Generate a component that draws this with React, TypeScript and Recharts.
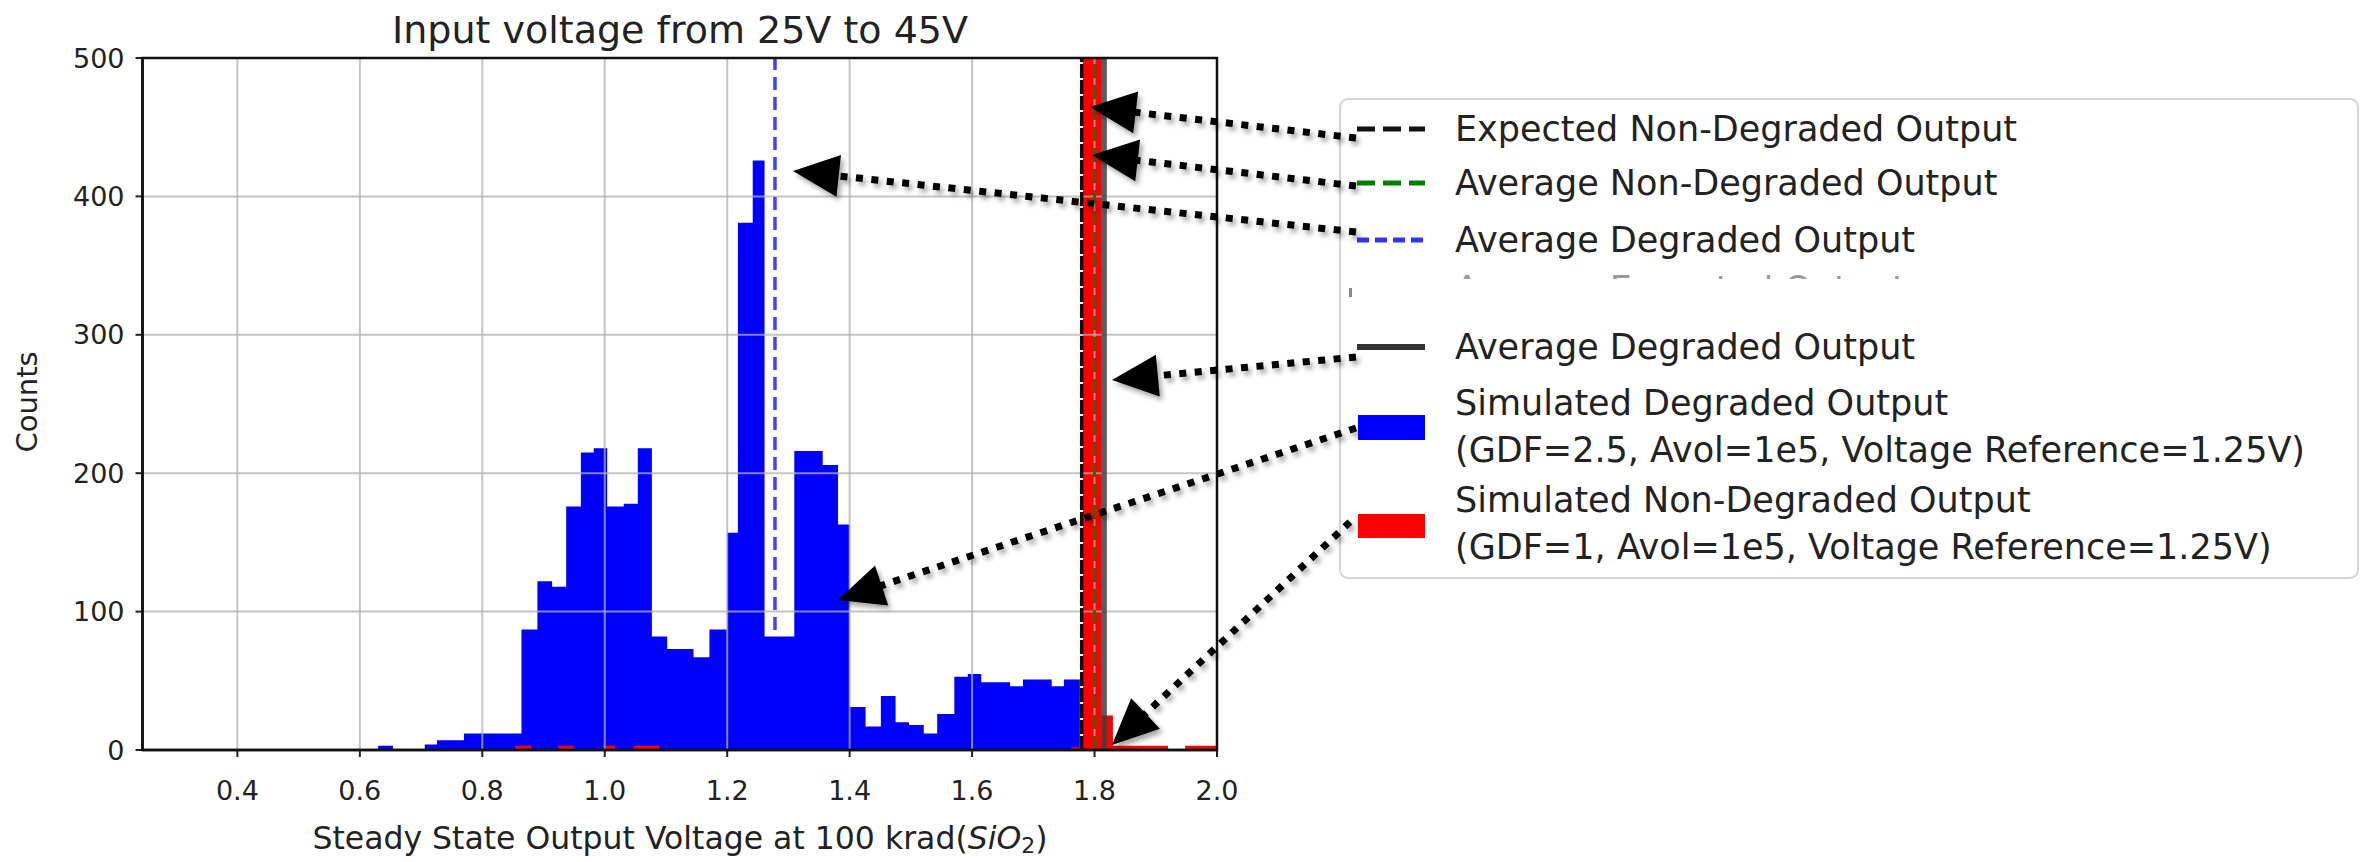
import React from 'react';
import {
  ComposedChart,
  Area,
  XAxis,
  YAxis,
  CartesianGrid,
  ReferenceLine,
  ReferenceArea,
  Legend,
} from 'recharts';

// Simulated degraded output histogram (bin edges in V, counts per bin)
const degradedEdges = [
  0.63, 0.654, 0.706, 0.726, 0.77, 0.864, 0.89, 0.914, 0.937, 0.961, 0.982, 1.004,
  1.031, 1.054, 1.077, 1.102, 1.145, 1.171, 1.2, 1.2175, 1.2417, 1.261, 1.3096, 1.356,
  1.381, 1.4, 1.426, 1.451, 1.475, 1.497, 1.521, 1.543, 1.571, 1.593, 1.615, 1.64,
  1.662, 1.683, 1.708, 1.73, 1.75, 1.776,
];
const degradedCounts = [
  3, 0, 4, 7, 12, 87, 122, 118, 176, 215, 218, 176, 178, 218, 82, 73, 67, 87, 157, 381,
  426, 82, 216, 206, 163, 31, 17, 39, 20, 18, 12, 26, 53, 55, 49, 49, 46, 51, 51, 46, 51,
];

// Simulated non-degraded output histogram
const nonDegradedEdges = [
  0.854, 0.88, 0.924, 0.949, 1.0, 1.017, 1.047, 1.089, 1.762, 1.776, 1.781, 1.812, 1.83,
  1.92, 1.948, 2.0,
];
const nonDegradedCounts = [3, 0, 3, 0, 3, 0, 3, 0, 2, 0, 1500, 25, 3, 0, 3];

// Vertical marker lines (V)
const expectedNonDegraded = 1.779;
const averageNonDegraded = 1.8;
const averageDegraded = 1.278;
const averageDegradedSolid = 1.816;

const xTicks = [0.4, 0.6, 0.8, 1.0, 1.2, 1.4, 1.6, 1.8, 2.0];
const yTicks = [0, 100, 200, 300, 400, 500];

const titleText = 'Input voltage from 25V to 45V';
const yLabel = 'Counts';

// annotation arrows drawn over the figure: [fromX, fromY, tipX, tipY]
const arrows = [
  [1356, 138, 1090, 107],
  [1356, 186, 1092, 155],
  [1356, 232, 793, 171],
  [1356, 357, 1112, 380],
  [1356, 428, 838, 600],
  [1350, 522, 1112, 745],
];

function countAt(edges: number[], counts: number[], x: number) {
  for (let i = 0; i < counts.length; i++) {
    if (x >= edges[i] && x < edges[i + 1]) return counts[i];
  }
  return 0;
}

const xs = Array.from(new Set([...degradedEdges, ...nonDegradedEdges])).sort((a, b) => a - b);
const histData = xs.map((x) => ({
  x,
  degraded: countAt(degradedEdges, degradedCounts, x),
  nonDegraded: countAt(nonDegradedEdges, nonDegradedCounts, x),
}));

const FONT = '"DejaVu Sans", sans-serif';
const TEXT = '#222';

function LegendBox() {
  const fs = 35;
  const textX = 116;
  return (
    <svg width={1020} height={481} style={{ display: 'block', fontFamily: FONT }}>
      <defs>
        <clipPath id="ghostClip">
          <rect x={0} y={177} width={1020} height={4} />
        </clipPath>
      </defs>
      <rect x={1} y={1} width={1018} height={479} rx={8} fill="#fff" stroke="#d4d4d4" strokeWidth={2} />
      <line x1={18} x2={86} y1={31} y2={31} stroke="#111" strokeWidth={5} strokeDasharray="18 8" />
      <text x={textX} y={31} fontSize={fs} fill={TEXT} dominantBaseline="central">Expected Non-Degraded Output</text>
      <line x1={18} x2={86} y1={85} y2={85} stroke="#008000" strokeWidth={5} strokeDasharray="18 8" />
      <text x={textX} y={85} fontSize={fs} fill={TEXT} dominantBaseline="central">Average Non-Degraded Output</text>
      <line x1={18} x2={86} y1={142} y2={142} stroke="#3333ff" strokeWidth={5} strokeDasharray="12 6" />
      <text x={textX} y={142} fontSize={fs} fill={TEXT} dominantBaseline="central">Average Degraded Output</text>
      {/* partly hidden entry, only the tops of its glyphs show */}
      <text x={textX} y={203} fontSize={fs} fill="#999" clipPath="url(#ghostClip)">Average Expected Output</text>
      <rect x={10} y={190} width={3} height={9} fill="#888" />
      <line x1={18} x2={86} y1={249} y2={249} stroke="#333" strokeWidth={6} />
      <text x={textX} y={249} fontSize={fs} fill={TEXT} dominantBaseline="central">Average Degraded Output</text>
      <rect x={19} y={317} width={67} height={25} fill="#0000ff" />
      <text x={textX} y={305} fontSize={fs} fill={TEXT} dominantBaseline="central">Simulated Degraded Output</text>
      <text x={textX} y={352} fontSize={fs} fill={TEXT} dominantBaseline="central">(GDF=2.5, Avol=1e5, Voltage Reference=1.25V)</text>
      <rect x={19} y={416} width={67} height={24} fill="#ff0000" />
      <text x={textX} y={402} fontSize={fs} fill={TEXT} dominantBaseline="central">Simulated Non-Degraded Output</text>
      <text x={textX} y={449} fontSize={fs} fill={TEXT} dominantBaseline="central">(GDF=1, Avol=1e5, Voltage Reference=1.25V)</text>
    </svg>
  );
}

function Arrow({ a }: { a: number[] }) {
  const [fx, fy, tx, ty] = a;
  const dx = fx - tx;
  const dy = fy - ty;
  const len = Math.hypot(dx, dy);
  const ux = dx / len;
  const uy = dy / len;
  const headLen = 46;
  const half = 21;
  const bx = tx + ux * headLen;
  const by = ty + uy * headLen;
  const pts = `${tx},${ty} ${bx - uy * half},${by + ux * half} ${bx + uy * half},${by - ux * half}`;
  return (
    <g filter="url(#arrowShadow)">
      <line x1={fx} y1={fy} x2={bx - ux * 2} y2={by - uy * 2} stroke="#000" strokeWidth={7} strokeDasharray="7 8.5" />
      <polygon points={pts} fill="#000" />
    </g>
  );
}

export default function App() {
  return (
    <div style={{ position: 'relative', width: 2377, height: 862, background: '#fff', fontFamily: FONT }}>
      <style>{`body{margin:0}`}</style>
      <ComposedChart
        width={2377}
        height={862}
        data={histData}
        margin={{ top: 58, right: 1160, bottom: 32, left: 62.5 }}
      >
        <XAxis
          type="number"
          dataKey="x"
          domain={[0.245, 2.0]}
          ticks={xTicks}
          allowDataOverflow
          height={80}
          tickFormatter={(v: number) => v.toFixed(1)}
          tick={{ fontSize: 27, fill: TEXT, fontFamily: FONT }}
          tickSize={7}
          tickMargin={24}
          tickLine={{ stroke: '#222', strokeWidth: 2 }}
          axisLine={{ stroke: '#111', strokeWidth: 2.5 }}
        />
        <YAxis
          type="number"
          domain={[0, 500]}
          ticks={yTicks}
          allowDataOverflow
          width={80}
          tick={{ fontSize: 27, fill: TEXT, fontFamily: FONT }}
          tickSize={7}
          tickMargin={11}
          tickLine={{ stroke: '#222', strokeWidth: 2 }}
          axisLine={{ stroke: '#111', strokeWidth: 2.5 }}
        />
        <Area
          type="stepAfter"
          dataKey="degraded"
          stroke="none"
          fill="#0000ff"
          fillOpacity={1}
          isAnimationActive={false}
          dot={false}
          activeDot={false}
        />
        <Area
          type="stepAfter"
          dataKey="nonDegraded"
          stroke="none"
          fill="#ff0000"
          fillOpacity={1}
          isAnimationActive={false}
          dot={false}
          activeDot={false}
        />
        <CartesianGrid stroke="#b0b0b0" strokeOpacity={0.75} strokeWidth={2} zIndex={150} />
        <ReferenceLine x={averageDegraded} stroke="#0000ff" strokeOpacity={0.75} strokeWidth={3.5} strokeDasharray="13 7" />
        <ReferenceLine x={expectedNonDegraded} stroke="#111" strokeWidth={3.5} strokeDasharray="14 2" />
        <ReferenceLine x={averageDegradedSolid} stroke="#404040" strokeOpacity={0.85} strokeWidth={5} />
        <ReferenceLine x={averageNonDegraded} stroke="#008000" strokeWidth={3} strokeDasharray="14 7" />
        <ReferenceArea
          x1={0.245}
          x2={2.0}
          y1={0}
          y2={500}
          fill="none"
          fillOpacity={0}
          stroke="#111"
          strokeWidth={2.5}
          zIndex={700}
        />
        <Legend
          layout="horizontal"
          verticalAlign="middle"
          align="center"
          wrapperStyle={{ left: 1339, top: 98, width: 1020, height: 481 }}
          content={() => <LegendBox />}
        />
      </ComposedChart>
      <svg
        width={2377}
        height={862}
        style={{ position: 'absolute', left: 0, top: 0, pointerEvents: 'none', fontFamily: FONT }}
      >
        <defs>
          <filter id="arrowShadow" x="-20%" y="-20%" width="140%" height="140%">
            <feDropShadow dx="3" dy="4" stdDeviation="2.5" floodColor="#000" floodOpacity="0.35" />
          </filter>
        </defs>
        <text x={680} y={30} fontSize={38} fill={TEXT} textAnchor="middle" dominantBaseline="central">
          {titleText}
        </text>
        <text x={680} y={838} fontSize={31.5} fill={TEXT} textAnchor="middle" dominantBaseline="central">
          Steady State Output Voltage at 100 krad(<tspan fontStyle="italic">SiO</tspan>
          <tspan fontSize={22} dy={7}>2</tspan>
          <tspan dy={-7}>)</tspan>
        </text>
        <text
          transform="translate(27,402) rotate(-90)"
          fontSize={29}
          fill={TEXT}
          textAnchor="middle"
          dominantBaseline="central"
        >
          {yLabel}
        </text>
        {arrows.map((a, i) => (
          <Arrow key={i} a={a} />
        ))}
      </svg>
    </div>
  );
}
